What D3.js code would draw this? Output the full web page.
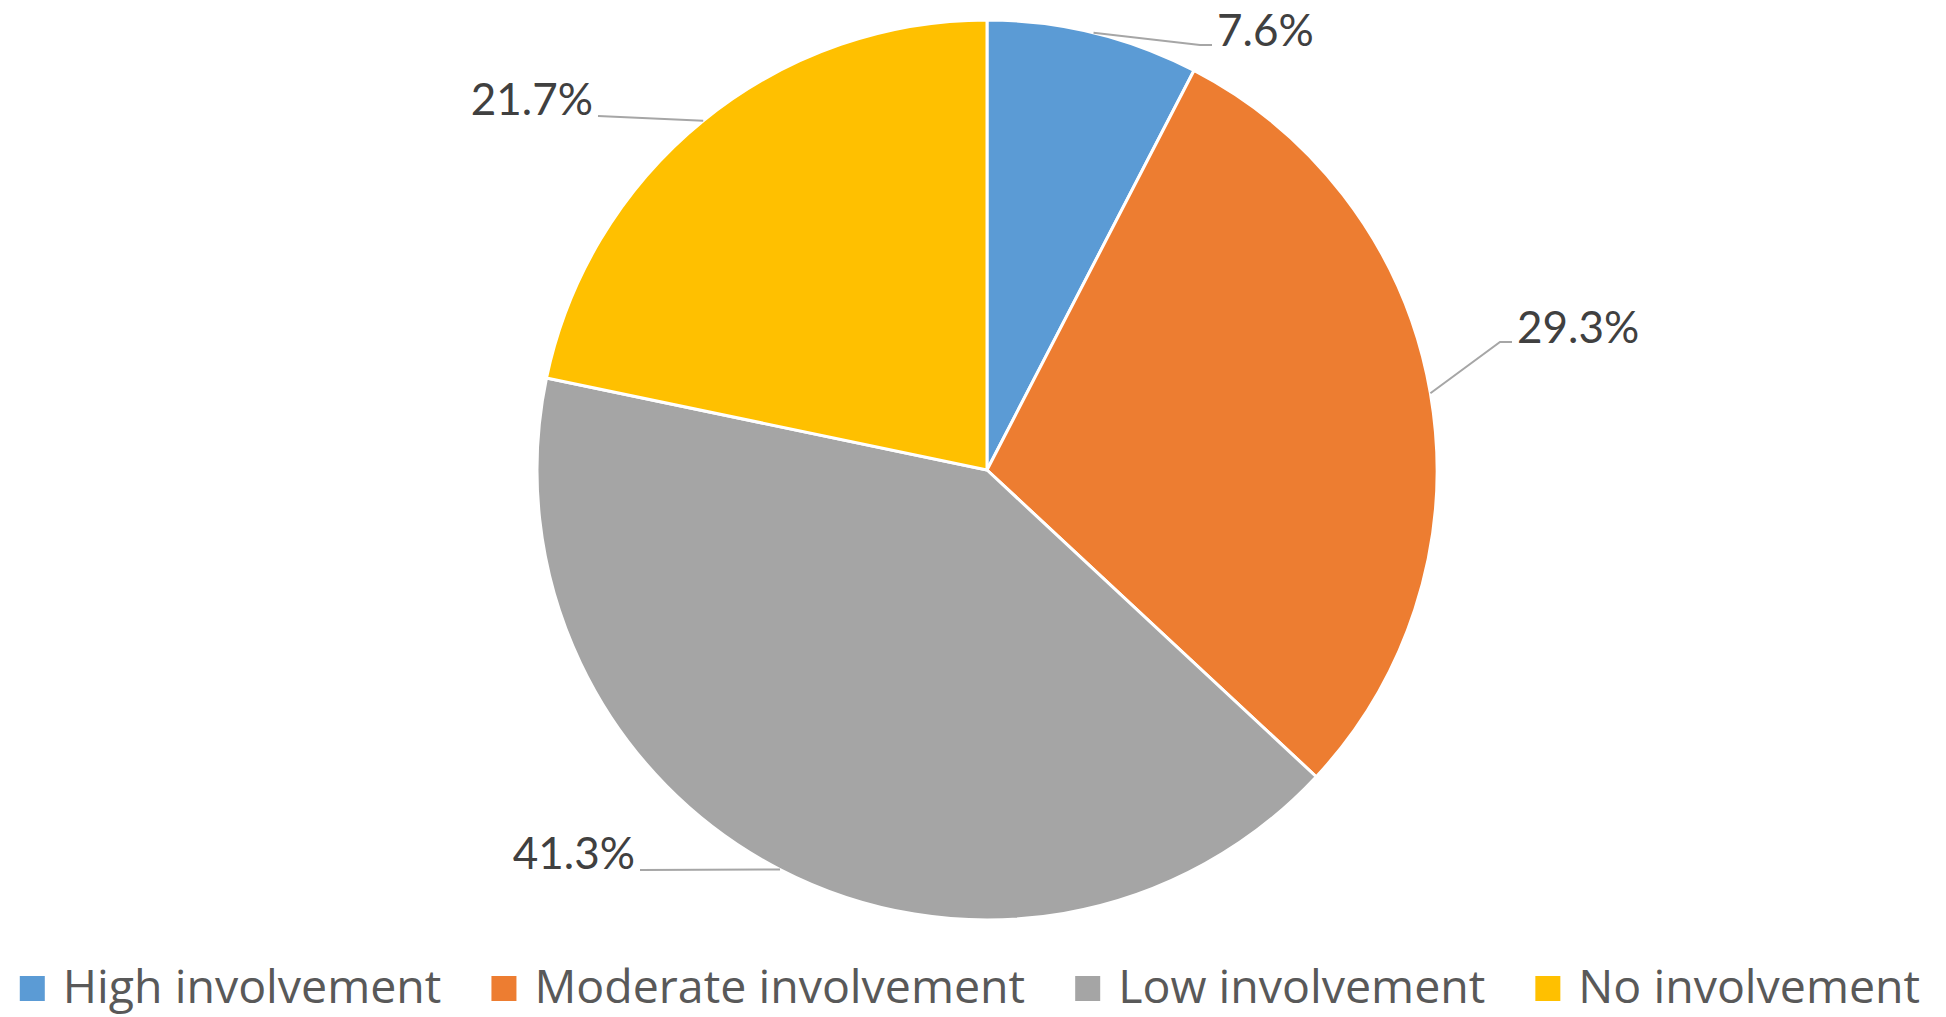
<!DOCTYPE html>
<html>
<head>
<meta charset="utf-8">
<script src="https://cdn.jsdelivr.net/npm/d3@7"></script>
<style>
  html, body { margin: 0; padding: 0; background: #fff; }
  svg { display: block; font-family: Lato, "Open Sans", sans-serif; }
</style>
</head>
<body>
<svg id="chart" width="1946" height="1017"></svg>
<script>
// data
var categories = ["High involvement", "Moderate involvement", "Low involvement", "No involvement"];
var values = [7.6, 29.3, 41.3, 21.7];
var colors = ["#5B9BD5", "#ED7D31", "#A5A5A5", "#FFC000"];

// where each label sits, relative to the pie centre (layout only)
var labelSpots = [
  {dx: 230, dy: -425, side: "right"},
  {dx: 530, dy: -128, side: "right"},
  {dx: -352, dy: 400, side: "left"},
  {dx: -394, dy: -354, side: "left"}
];

var width = 1946, height = 1017;
var cx = 987, cy = 470, radius = 450;

var svg = d3.select("#chart");

var pie = d3.pie().sort(null).value(function(d) { return d; });
var arc = d3.arc().innerRadius(0).outerRadius(radius);
var arcs = pie(values);

var g = svg.append("g").attr("transform", "translate(" + cx + "," + cy + ")");

g.selectAll("path.slice")
  .data(arcs)
  .enter().append("path")
    .attr("class", "slice")
    .attr("d", arc)
    .attr("fill", function(d, i) { return colors[i]; })
    .attr("stroke", "#fff")
    .attr("stroke-width", 3)
    .attr("stroke-linejoin", "round");

// leader lines + labels
arcs.forEach(function(d, i) {
  var mid = (d.startAngle + d.endAngle) / 2;
  var px = radius * Math.sin(mid), py = -radius * Math.cos(mid);
  var s = labelSpots[i];
  var pts;
  if (s.side === "right") {
    pts = [[px, py], [s.dx - 17, s.dy], [s.dx - 5, s.dy]];
  } else {
    pts = [[px, py], [s.dx + 5, s.dy]];
  }
  g.append("path")
    .attr("d", d3.line()(pts))
    .attr("fill", "none")
    .attr("stroke", "#A6A6A6")
    .attr("stroke-width", 2);

  g.append("text")
    .attr("x", s.dx)
    .attr("y", s.side === "right" ? s.dy + 1 : s.dy - 1)
    .attr("text-anchor", s.side === "right" ? "start" : "end")
    .attr("font-size", 44)
    .attr("fill", "#404040")
    .text(d3.format(".1f")(values[i]) + "%");
});

// legend
var legend = svg.append("g").attr("class", "legend");
var items = legend.selectAll("g")
  .data(categories)
  .enter().append("g");

items.append("rect")
  .attr("width", 25).attr("height", 25)
  .attr("y", 976)
  .attr("fill", function(d, i) { return colors[i]; });

items.append("text")
  .attr("x", 43)
  .attr("y", 1003)
  .attr("font-family", "'Open Sans', sans-serif")
  .attr("font-size", 46.5)
  .attr("fill", "#595959")
  .text(function(d) { return d; });

var xpos = 0, gap = 50, offsets = [];
items.each(function() {
  offsets.push(xpos);
  xpos += 43 + d3.select(this).select("text").node().getComputedTextLength() + gap;
});
var total = xpos - gap;
var start = 970 - total / 2;
items.attr("transform", function(d, i) { return "translate(" + (start + offsets[i]) + ",0)"; });
</script>
</body>
</html>
